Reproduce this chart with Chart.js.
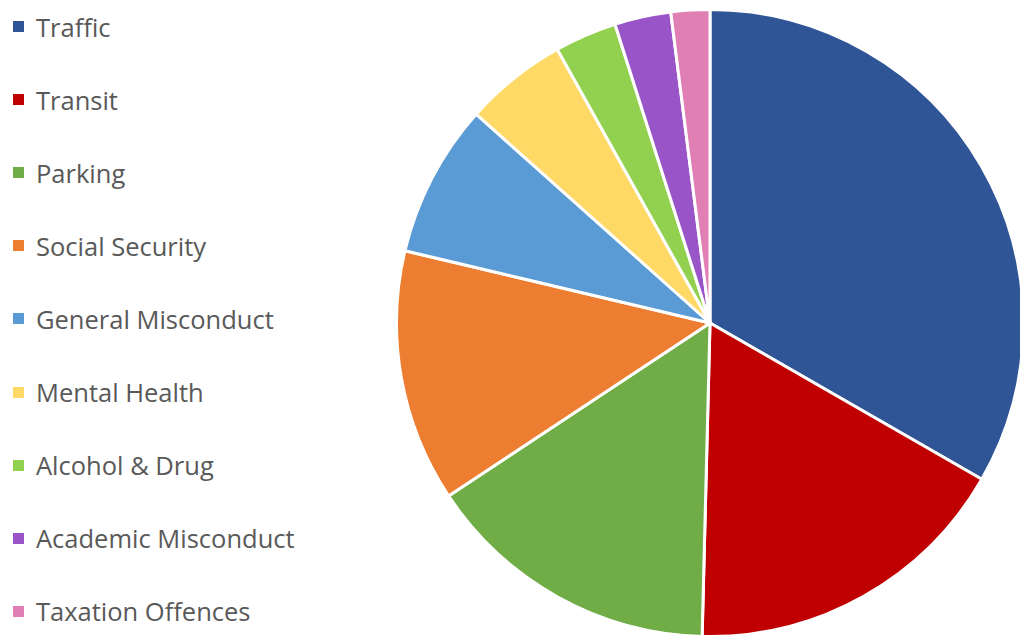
<!DOCTYPE html>
<html>
<head>
<meta charset="utf-8">
<script src="https://cdn.jsdelivr.net/npm/chart.js@4.4.0/dist/chart.umd.min.js"></script>
<style>
  html, body { margin: 0; padding: 0; background: #fff; overflow: hidden; }
  body { width: 1020px; height: 635px; position: relative; }
  #legend { position: absolute; left: 13px; top: -10px; font-family: "Open Sans", sans-serif; font-size: 25.5px; color: #595959; }
  #legend .item { height: 73.1px; display: flex; align-items: center; white-space: nowrap; }
  #legend .box { width: 11px; height: 11px; margin-right: 12px; flex: none; }
  #wrap { position: absolute; left: 393px; top: 0; width: 634px; height: 638px; }
</style>
</head>
<body>
<div id="legend"></div>
<div id="wrap"><canvas id="pie"></canvas></div>
<script>
const categories = ["Traffic", "Transit", "Parking", "Social Security", "General Misconduct",
  "Mental Health", "Alcohol & Drug", "Academic Misconduct", "Taxation Offences"];
const shares = [33.3, 17.1, 15.3, 13.0, 7.9, 5.3, 3.2, 2.9, 2.0];
const colors = ["#2F5597", "#C00000", "#70AD47", "#ED7D31", "#5B9BD5",
  "#FFD966", "#92D050", "#9954C8", "#E07FB4"];

// legend built from the chart's own labels
const htmlLegend = {
  id: "htmlLegend",
  afterUpdate(chart) {
    const el = document.getElementById("legend");
    el.innerHTML = "";
    const items = chart.options.plugins.legend.labels.generateLabels(chart);
    items.forEach(it => {
      const row = document.createElement("div");
      row.className = "item";
      const box = document.createElement("span");
      box.className = "box";
      box.style.background = it.fillStyle;
      const txt = document.createElement("span");
      txt.textContent = it.text;
      row.appendChild(box);
      row.appendChild(txt);
      el.appendChild(row);
    });
  }
};

new Chart(document.getElementById("pie"), {
  type: "pie",
  data: {
    labels: categories,
    datasets: [{
      data: shares,
      backgroundColor: colors,
      borderColor: "#ffffff",
      borderWidth: 3,
      hoverOffset: 0
    }]
  },
  options: {
    responsive: true,
    maintainAspectRatio: false,
    animation: false,
    layout: { padding: { top: 8 } },
    plugins: {
      legend: { display: false },
      tooltip: { enabled: false }
    }
  },
  plugins: [htmlLegend]
});
</script>
</body>
</html>
